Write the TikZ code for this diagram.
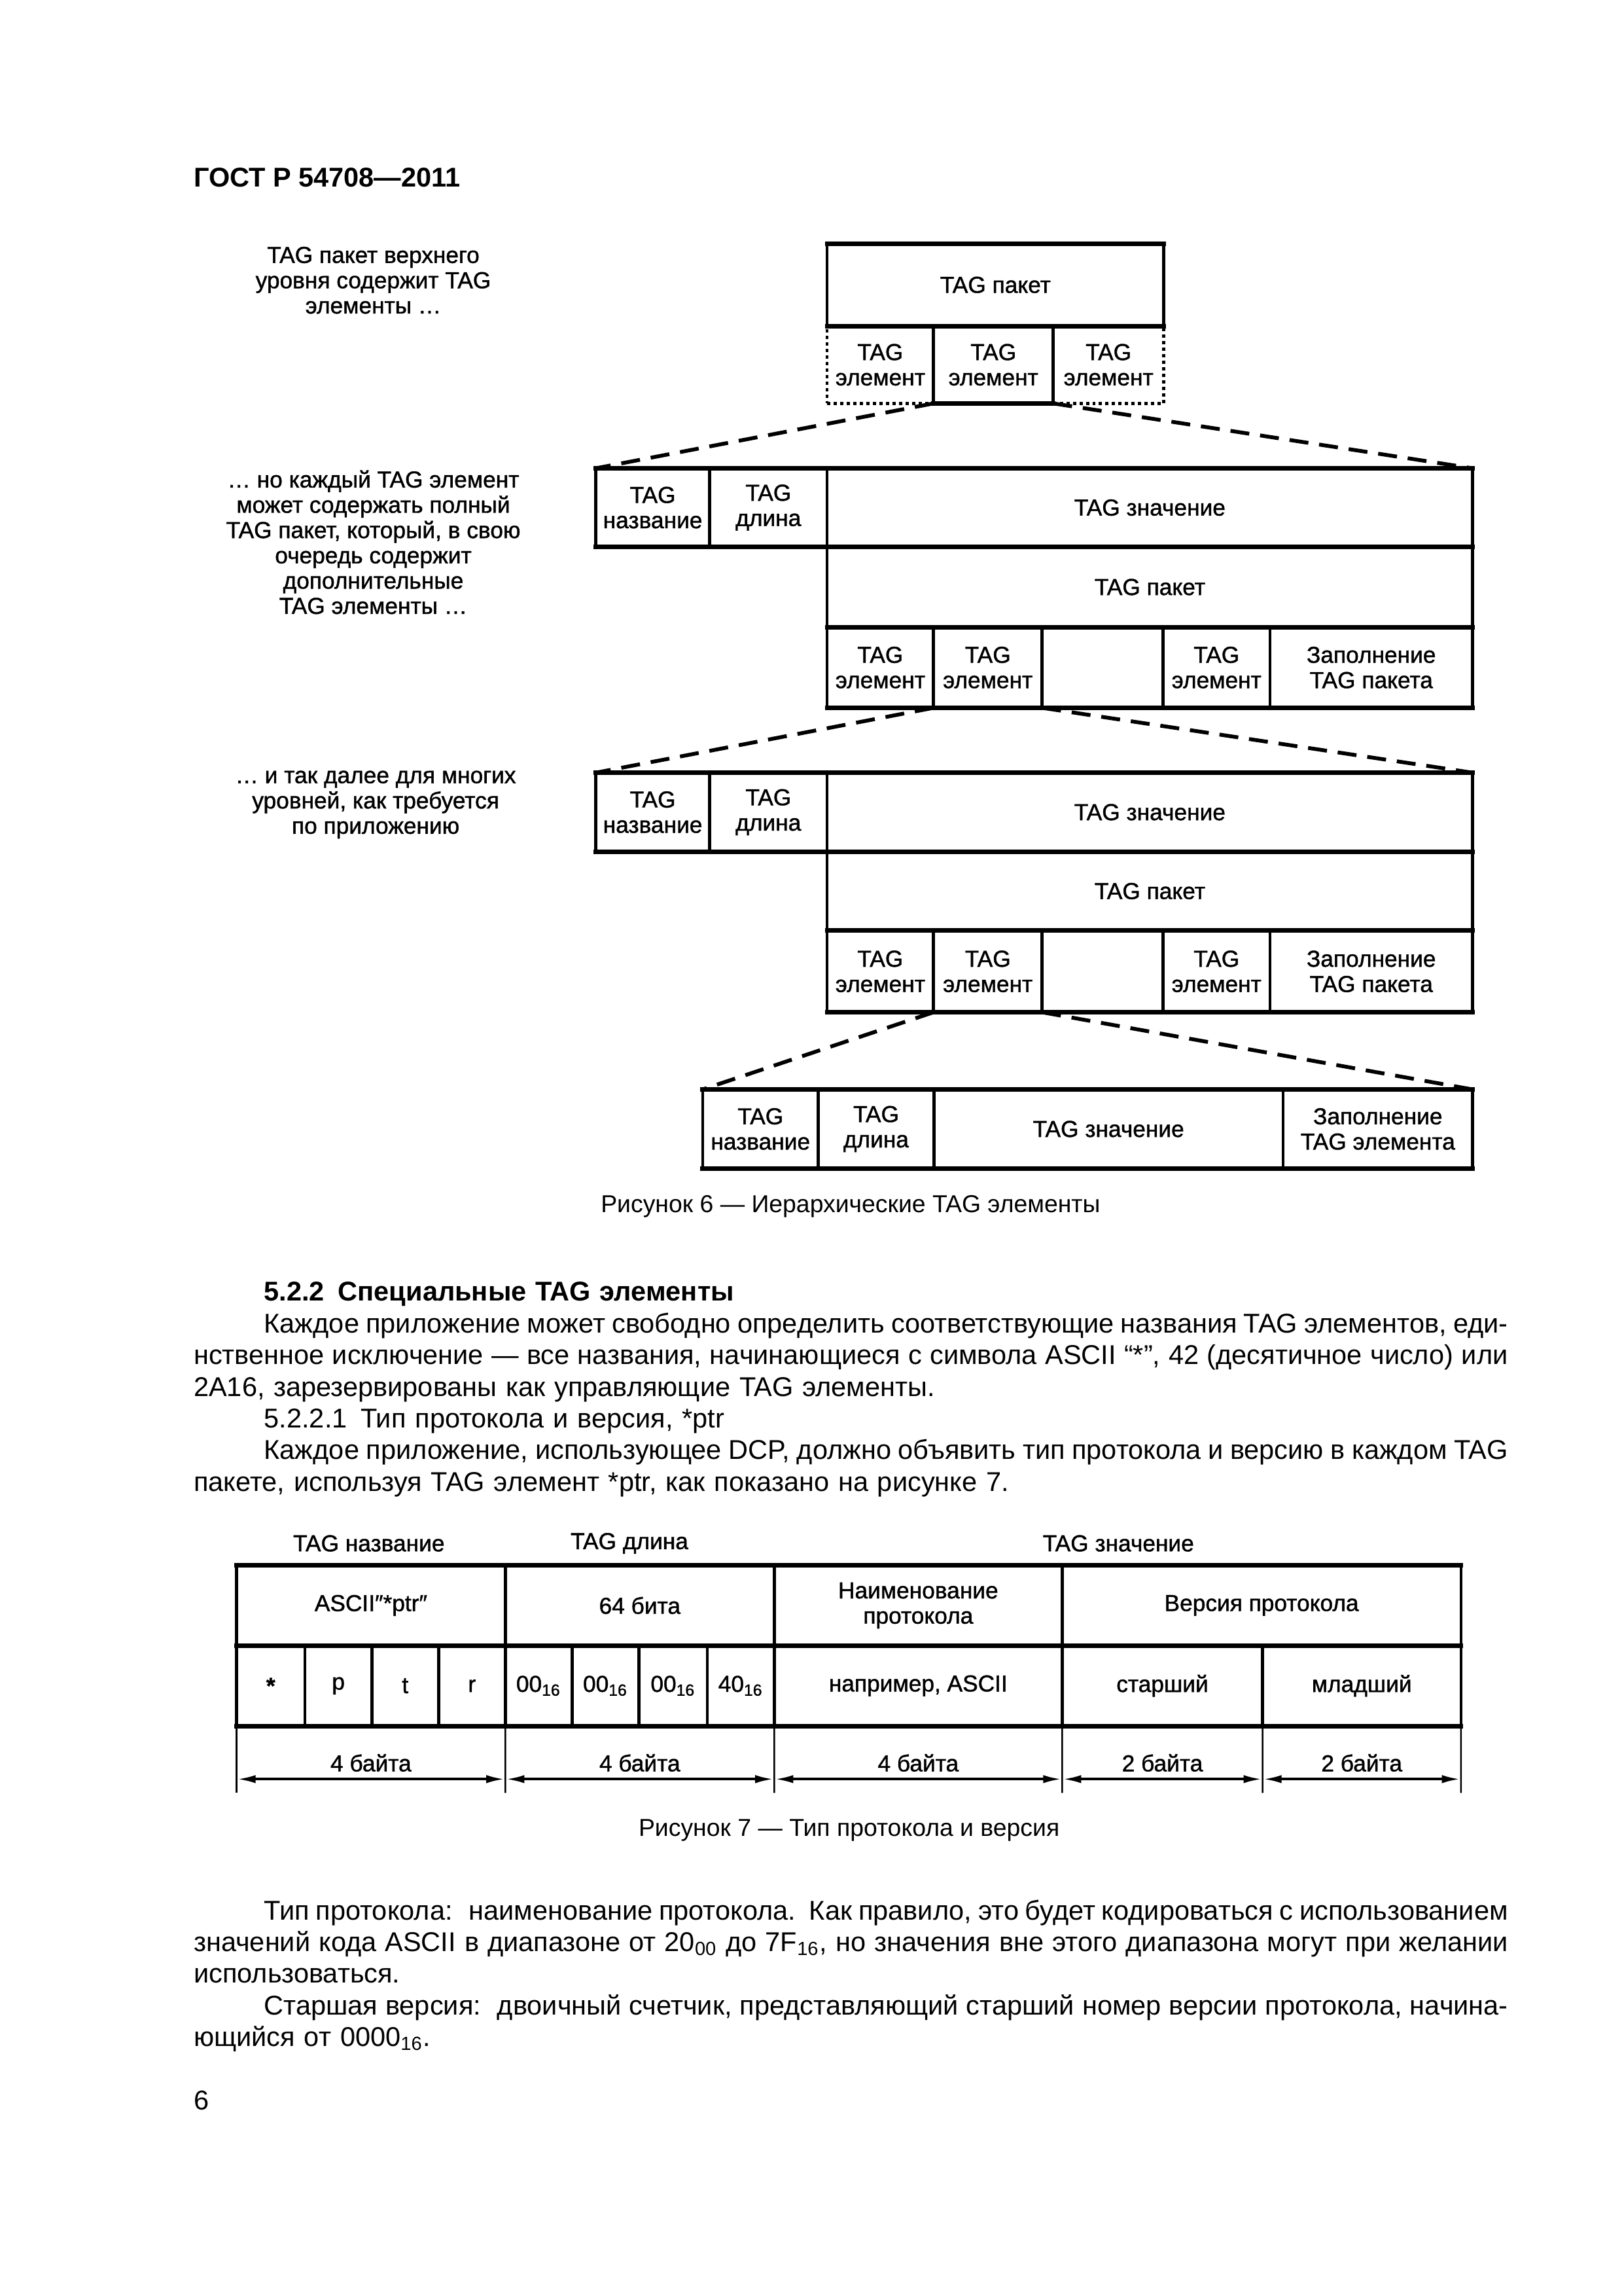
\documentclass[tikz,border=0pt]{standalone}
\usepackage{fontspec}
\setmainfont{Liberation Sans}
\newfontfamily\figfam{Liberation Sans}[FakeBold=1.2]
\usetikzlibrary{arrows.meta}

\newcommand\figfont{\figfam\fontsize{8.5pt}{9.3pt}\selectfont}
\newcommand\capfont{\fontsize{9pt}{11pt}\selectfont}
\newcommand\txtfont{\fontsize{10pt}{11.66pt}\selectfont}
\newlength\txtw \setlength\txtw{170mm}
\newlength\parind \setlength\parind{9.1mm}
\newcommand\jl[1]{{\spaceskip=0.278em plus 0.6em minus 0.17em\makebox[\txtw][s]{#1}}}
% cell: style, name, x1, y1, x2, y2, text (page units)
\newcommand\cellnode[7]{%
  \node[#1, minimum width={((#5)-(#3))*0.18936mm},
        minimum height={((#6)-(#4))*0.18936mm}]
    (#2) at ({((#3)+(#5))/2},{((#4)+(#6))/2}) {#7};}

\tikzset{
  cell/.style={draw, line width=1.1pt, inner sep=0pt, outer sep=0pt,
               align=center, font=\figfont},
  dotcell/.style={cell, dash pattern=on 1.2pt off 1.2pt},
  hline/.style={line width=1.7pt, line cap=rect},
  link/.style={line width=1.4pt, dash pattern=on 7pt off 4pt},
  note/.style={align=center, font=\figfont, inner sep=0pt},
  capt/.style={font=\capfont, inner sep=0pt},
  txt/.style={font=\txtfont, text width=\txtw, align=left, inner sep=0pt,
              anchor=base west},
  ext/.style={line width=0.6pt},
  dim/.style={<->, line width=1pt},
  lab/.style={midway, yshift=2.1mm, font=\figfont, inner sep=0pt},
}

\begin{document}
\begin{tikzpicture}[x=0.18936mm, y=-0.18936mm, >={Latex[length=7pt,width=3pt]}]
\useasboundingbox (0,0) rectangle (1109,1568);

\node[anchor=base west, inner sep=0pt, font=\bfseries\fontsize{10pt}{12pt}\selectfont]
  (gost) at (132,127.7) {ГОСТ Р 54708—2011};

% left notes
\node[note] (t0) at (255,191.4) {TAG пакет верхнего\\уровня содержит TAG\\элементы …};
\node[note] (t1) at (255,370.3) {… но каждый TAG элемент\\может содержать полный\\TAG пакет, который, в свою\\очередь содержит\\дополнительные\\TAG элементы …};
\node[note] (t2) at (256.6,549.5) {… и так далее для многих\\уровней, как требуется\\по приложению};

% top packet
\cellnode{dotcell}{e01}{565}{222.7}{637.7}{275.5}{TAG\\элемент}
\cellnode{dotcell}{e03}{719.5}{222.7}{795}{275.5}{TAG\\элемент}
\cellnode{cell}{p0}{565}{166.4}{795}{222.7}{TAG пакет}
\cellnode{cell}{e02}{637.7}{222.7}{719.5}{275.5}{TAG\\элемент}
\draw[hline] (p0.north west) -- (p0.north east);
\draw[hline] (p0.south west) -- (p0.south east);
\draw[hline] (e02.south west) -- (e02.south east);

% level 1
\cellnode{cell}{n1}{407}{319.8}{484.8}{373.5}{TAG\\название}
\cellnode{cell}{l1}{484.8}{319.8}{565}{373.5}{TAG\\длина}
\cellnode{cell}{v1}{565}{319.8}{1006}{373.5}{TAG значение}
\cellnode{cell}{p1}{565}{373.5}{1006}{428.3}{TAG пакет}
\cellnode{cell}{e11}{565}{428.3}{637.7}{483.4}{TAG\\элемент}
\cellnode{cell}{e12}{637.7}{428.3}{711.9}{483.4}{TAG\\элемент}
\cellnode{cell}{e13}{711.9}{428.3}{794.6}{483.4}{}
\cellnode{cell}{e14}{794.6}{428.3}{867.5}{483.4}{TAG\\элемент}
\cellnode{cell}{f1}{867.5}{428.3}{1006}{483.4}{Заполнение\\TAG пакета}
\draw[hline] (n1.north west) -- (v1.north east);
\draw[hline] (n1.south west) -- (v1.south east);
\draw[hline] (p1.south west) -- (p1.south east);
\draw[hline] (e11.south west) -- (f1.south east);

% level 2
\cellnode{cell}{n2}{407}{527.7}{484.8}{581.6}{TAG\\название}
\cellnode{cell}{l2}{484.8}{527.7}{565}{581.6}{TAG\\длина}
\cellnode{cell}{v2}{565}{527.7}{1006}{581.6}{TAG значение}
\cellnode{cell}{p2}{565}{581.6}{1006}{635.5}{TAG пакет}
\cellnode{cell}{e21}{565}{635.5}{637.7}{691.3}{TAG\\элемент}
\cellnode{cell}{e22}{637.7}{635.5}{711.9}{691.3}{TAG\\элемент}
\cellnode{cell}{e23}{711.9}{635.5}{794.6}{691.3}{}
\cellnode{cell}{e24}{794.6}{635.5}{867.5}{691.3}{TAG\\элемент}
\cellnode{cell}{f2}{867.5}{635.5}{1006}{691.3}{Заполнение\\TAG пакета}
\draw[hline] (n2.north west) -- (v2.north east);
\draw[hline] (n2.south west) -- (v2.south east);
\draw[hline] (p2.south west) -- (p2.south east);
\draw[hline] (e21.south west) -- (f2.south east);

% last element
\cellnode{cell}{n3}{480}{744}{559}{798}{TAG\\название}
\cellnode{cell}{l3}{559}{744}{638}{798}{TAG\\длина}
\cellnode{cell}{v3}{638}{744}{876.5}{798}{TAG значение}
\cellnode{cell}{f3}{876.5}{744}{1006}{798}{Заполнение\\TAG элемента}
\draw[hline] (n3.north west) -- (f3.north east);
\draw[hline] (n3.south west) -- (f3.south east);

% zoom lines
\draw[link] (e02.south west) -- (n1.north west);
\draw[link] (e02.south east) -- (v1.north east);
\draw[link] (e12.south west) -- (n2.north west);
\draw[link] (e12.south east) -- (v2.north east);
\draw[link] (e22.south west) -- (n3.north west);
\draw[link] (e22.south east) -- (f3.north east);

\node[capt] (cap6) at (581,824) {Рисунок 6 — Иерархические TAG элементы};

% text
\node[txt] (par1) at (132,888.5) {%
\hspace*{\parind}\textbf{5.2.2\hspace{0.5em}Специальные TAG элементы}\\
\jl{\hspace*{\parind}Каждое приложение может свободно определить соответствующие названия TAG элементов, еди-}\\
\jl{нственное исключение — все названия, начинающиеся с символа ASCII “*”, 42 (десятичное число) или}\\
2A16, зарезервированы как управляющие TAG элементы.\\
\hspace*{\parind}5.2.2.1\hspace{0.5em}Тип протокола и версия, *ptr\\
\jl{\hspace*{\parind}Каждое приложение, использующее DCP, должно объявить тип протокола и версию в каждом TAG}\\
пакете, используя TAG элемент *ptr, как показано на рисунке 7.};

% figure 7
\node[note] (h1) at (252,1054) {TAG название};
\node[note] (h2) at (430,1054) {TAG длина};
\node[note] (h3) at (764,1054) {TAG значение};

\cellnode{cell}{r1}{161.6}{1069}{345.2}{1123.8}{ASCII″*ptr″}
\cellnode{cell}{r2}{345.2}{1069}{528.9}{1123.8}{64 бита}
\cellnode{cell}{r3}{528.9}{1069}{725.6}{1123.8}{Наименование\\протокола}
\cellnode{cell}{r4}{725.6}{1069}{998}{1123.8}{Версия протокола}
\cellnode{cell}{a1}{161.6}{1123.8}{208.3}{1178.7}{\textbf{*}}
\cellnode{cell}{a2}{208.3}{1123.8}{254}{1178.7}{p}
\cellnode{cell}{a3}{254}{1123.8}{299.6}{1178.7}{t}
\cellnode{cell}{a4}{299.6}{1123.8}{345.2}{1178.7}{r}
\cellnode{cell}{b1}{345.2}{1123.8}{390.8}{1178.7}{00\textsubscript{16}}
\cellnode{cell}{b2}{390.8}{1123.8}{436.5}{1178.7}{00\textsubscript{16}}
\cellnode{cell}{b3}{436.5}{1123.8}{483.2}{1178.7}{00\textsubscript{16}}
\cellnode{cell}{b4}{483.2}{1123.8}{528.9}{1178.7}{40\textsubscript{16}}
\cellnode{cell}{c1}{528.9}{1123.8}{725.6}{1178.7}{например, ASCII}
\cellnode{cell}{c2}{725.6}{1123.8}{862.5}{1178.7}{старший}
\cellnode{cell}{c3}{862.5}{1123.8}{998}{1178.7}{младший}
\draw[hline] (r1.north west) -- (r4.north east);
\draw[hline] (a1.north west) -- (c3.north east);
\draw[hline] (a1.south west) -- (c3.south east);

\coordinate (x0) at (161.6,1224.4);
\coordinate (x1) at (345.2,1224.4);
\coordinate (x2) at (528.9,1224.4);
\coordinate (x3) at (725.6,1224.4);
\coordinate (x4) at (862.5,1224.4);
\coordinate (x5) at (998,1224.4);
\coordinate (d0) at (161.6,1215);
\coordinate (d1) at (345.2,1215);
\coordinate (d2) at (528.9,1215);
\coordinate (d3) at (725.6,1215);
\coordinate (d4) at (862.5,1215);
\coordinate (d5) at (998,1215);
\draw[ext] (a1.south west) -- (x0);
\draw[ext] (b1.south west) -- (x1);
\draw[ext] (c1.south west) -- (x2);
\draw[ext] (c2.south west) -- (x3);
\draw[ext] (c3.south west) -- (x4);
\draw[ext] (c3.south east) -- (x5);
\draw[dim] (d0) -- node[lab] {4 байта} (d1);
\draw[dim] (d1) -- node[lab] {4 байта} (d2);
\draw[dim] (d2) -- node[lab] {4 байта} (d3);
\draw[dim] (d3) -- node[lab] {2 байта} (d4);
\draw[dim] (d4) -- node[lab] {2 байта} (d5);

\node[capt] (cap7) at (580,1250) {Рисунок 7 — Тип протокола и версия};

\node[txt] (par2) at (132,1311) {%
\jl{\hspace*{\parind}Тип протокола:\hspace{0.6em}наименование протокола. Как правило, это будет кодироваться с использованием}\\
\jl{значений кода ASCII в диапазоне от 20\textsubscript{00} до 7F\textsubscript{16}, но значения вне этого диапазона могут при желании}\\
использоваться.\\
\jl{\hspace*{\parind}Старшая версия:\hspace{0.6em}двоичный счетчик, представляющий старший номер версии протокола, начина-}\\
ющийся от 0000\textsubscript{16}.};

\node[txt] (pg) at (132,1440.7) {6};
\end{tikzpicture}
\end{document}
